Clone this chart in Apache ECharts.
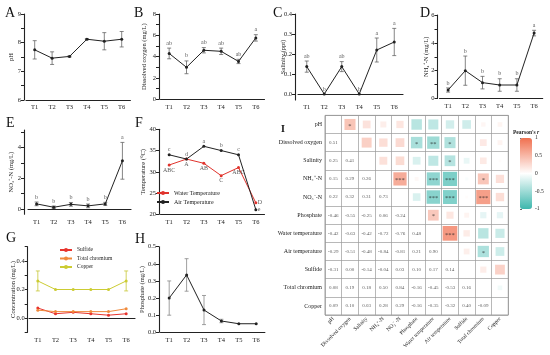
<!DOCTYPE html>
<html><head><meta charset="utf-8">
<script src="https://cdn.jsdelivr.net/npm/echarts@6/dist/echarts.min.js"></script>
<style>html,body{margin:0;padding:0;background:#fff}#c{width:550px;height:355px}</style>
</head><body><div id="c"></div>
<script>
// ---------- data ----------
const categories = ['T1','T2','T3','T4','T5','T6'];
const phMean = [7.75, 7.46, 7.52, 8.12, 8.05, 8.12];
const phSd   = [0.32, 0.22, 0.02, 0.02, 0.30, 0.27];
const doMean = [4.3, 3.0, 4.6, 4.5, 3.55, 5.76];
const doSd   = [0.5, 0.6, 0.25, 0.3, 0.2, 0.3];
const doLetters = ['ab','b','ab','ab','ab','a'];
const salMean = [0.137, 0, 0.137, 0, 0.22, 0.26];
const salSd   = [0.028, 0, 0.025, 0, 0.06, 0.068];
const salLetters = ['ab','b','ab','b','a','a'];
const nhMean = [0.61, 2.0, 1.14, 0.97, 0.97, 4.7];
const nhSd   = [0.15, 1.05, 0.45, 0.45, 0.45, 0.2];
const nhLetters = ['b','b','b','b','b','a'];
const noMean = [0.33, 0.11, 0.30, 0.20, 0.33, 3.14];
const noSd   = [0.12, 0.08, 0.12, 0.12, 0.10, 1.2];
const noLetters = ['b','b','b','b','b','a'];
const waterTemp = [31.6, 33.0, 32.0, 29.1, 31.0, 22.7];
const airTemp   = [34.0, 33.0, 36.0, 35.0, 34.0, 21.1];
const waterLetters = ['ABC','A','AB','C','ABC','D'];
const airLetters   = ['c','d','a','b','c','e'];
const sulfide  = [0.07, 0.03, 0.04, 0.03, 0.02, 0.03];
const chromium = [0.055, 0.045, 0.045, 0.045, 0.045, 0.065];
const copper   = [0.26, 0.20, 0.20, 0.20, 0.20, 0.26];
const copperSd = [0.07, 0, 0, 0, 0, 0.07];
const phosMean = [0.2, 0.335, 0.13, 0.066, 0.05, 0.05];
const phosSd   = [0.1, 0.095, 0.085, 0.01, 0, 0];
const corrVars = ['pH','Dissolved oxygen','Salinity','NH\u2084\u207A-N','NO\u2083\u207B-N','Phosphate','Water temperature','Air temperature','Sulfide','Total chromium','Copper'];
const corrLower = [
  [],
  [0.51],
  [0.25, 0.41],
  [0.15, 0.29, 0.26],
  [0.22, 0.32, 0.31, 0.73],
  [-0.46, -0.55, -0.25, 0.06, -0.24],
  [-0.42, -0.63, -0.42, -0.72, -0.76, 0.48],
  [-0.29, -0.51, -0.48, -0.84, -0.81, 0.21, 0.90],
  [-0.31, 0.00, -0.14, -0.04, 0.03, 0.10, 0.17, 0.14],
  [0.08, 0.19, 0.18, 0.50, 0.84, -0.16, -0.45, -0.53, 0.16],
  [0.09, 0.10, 0.03, 0.28, 0.29, -0.16, -0.35, -0.32, 0.40, -0.09]
];
const corrStars = [[0,1,'*'],[1,5,'*'],[1,6,'**'],[1,7,'*'],[2,7,'*'],[3,4,'***'],[3,6,'***'],[3,7,'***'],[3,9,'*'],[4,6,'***'],[4,7,'***'],[4,9,'***'],[5,6,'*'],[6,7,'***'],[7,9,'*']];
const colorbarTicks = [-1, -0.5, 0, 0.5, 1];

// ---------- build ----------
const serif = "'Liberation Serif','Times New Roman',serif";
const ink = '#222';
const grids = [], xAxes = [], yAxes = [], series = [];

function addPanel(g, y, nameText, nameGap) {
  const gi = grids.length;
  grids.push({left:g[0], top:g[1], width:g[2], height:g[3], containLabel:false, outerBoundsMode:'none'});
  xAxes.push({type:'category', gridIndex:gi, data:categories, boundaryGap:true,
    axisLine:{lineStyle:{color:ink, width:1.1}},
    axisTick:{alignWithLabel:true, length:3, lineStyle:{color:ink, width:1}},
    axisLabel:{fontSize:6.5, color:ink, margin:4, fontFamily:serif, interval:0},
    splitLine:{show:false}});
  yAxes.push({type:'value', gridIndex:gi, min:y.min, max:y.max, offset:y.off,
    axisLine:{show:true, lineStyle:{color:ink, width:1.1}},
    axisTick:{show:true, length:3, customValues:y.ticks, lineStyle:{color:ink, width:1}},
    axisLabel:{customValues:y.labels, fontSize:6.5, color:ink, margin:3, fontFamily:serif,
      formatter: v => Number(v).toFixed(y.dec)},
    splitLine:{show:false},
    name:nameText, nameLocation:'middle', nameGap:nameGap, nameMoveOverlap:false,
    nameTextStyle:{fontSize:6.5, color:ink, fontFamily:serif}});
  return gi;
}
function lineS(gi, name, data, color) {
  return {type:'line', name, xAxisIndex:gi, yAxisIndex:gi, data, symbol:'circle', symbolSize:3,
    itemStyle:{color}, lineStyle:{color, width:1}, z:4, animation:false};
}
function errS(gi, mean, sd, color) {
  return {type:'custom', xAxisIndex:gi, yAxisIndex:gi, z:3, animation:false, silent:true,
    data: mean.map((m,i) => [i, m - sd[i], m + sd[i]]),
    encode:{x:0, y:[1,2]},
    renderItem: (params, api) => {
      const x = api.value(0);
      const lo = api.coord([x, api.value(1)]), hi = api.coord([x, api.value(2)]);
      if (Math.abs(lo[1] - hi[1]) < 0.5) return null;
      const w = 2, st = {stroke:color, lineWidth:0.8};
      return {type:'group', children:[
        {type:'line', shape:{x1:lo[0], y1:lo[1], x2:hi[0], y2:hi[1]}, style:st},
        {type:'line', shape:{x1:lo[0]-w, y1:lo[1], x2:lo[0]+w, y2:lo[1]}, style:st},
        {type:'line', shape:{x1:hi[0]-w, y1:hi[1], x2:hi[0]+w, y2:hi[1]}, style:st}
      ]};
    }};
}
function letterS(gi, vals, letters, positions) {
  return {type:'scatter', xAxisIndex:gi, yAxisIndex:gi, symbolSize:0, silent:true, animation:false, z:5,
    data: vals.map((v,i) => ({value:[i, v], label:{position: positions ? positions[i] : 'top'}})),
    label:{show:true, formatter: p => letters[p.dataIndex], fontSize:6, color:'#333', fontFamily:serif, distance:2}};
}
const plus = (m, s) => m.map((v,i) => v + s[i]);

// A
let gi = addPanel([26,14,104.4,86], {min:6,max:9,off:2,dec:0,labels:[6,7,8,9],ticks:[6,6.5,7,7.5,8,8.5,9]}, 'pH', 9);
series.push(errS(gi, phMean, phSd, '#666'), lineS(gi, 'pH', phMean, ink));
// B
gi = addPanel([160.5,14,104,85.3], {min:0,max:8,off:1.5,dec:0,labels:[0,2,4,6,8],ticks:[0,1,2,3,4,5,6,7,8]}, 'Dissolved oxygen (mg/L)', 11);
series.push(errS(gi, doMean, doSd, '#666'), lineS(gi, 'DO', doMean, ink), letterS(gi, plus(doMean, doSd), doLetters));
// C
gi = addPanel([298,14,105,86], {min:-0.03,max:0.4,off:3,dec:1,labels:[0,0.1,0.2,0.3,0.4],ticks:[0,0.1,0.2,0.3,0.4]}, 'Salinity (ppt)', 8);
series.push(errS(gi, salMean, salSd, '#666'), lineS(gi, 'Salinity', salMean, ink), letterS(gi, plus(salMean, salSd), salLetters));
// D
gi = addPanel([439.5,15,103.2,83.5], {min:0,max:6,off:2,dec:0,labels:[0,2,4,6],ticks:[0,1,2,3,4,5,6]}, 'NH\u2084\u207A-N (mg/L)', 8);
series.push(errS(gi, nhMean, nhSd, '#666'), lineS(gi, 'NH4', nhMean, ink), letterS(gi, plus(nhMean, nhSd), nhLetters));
// E
gi = addPanel([28,130,103,84.3], {min:-0.35,max:5.15,off:4,dec:0,labels:[0,2,4],ticks:[0,1,2,3,4,5]}, 'NO\u2083\u207B-N (mg/L)', 9);
series.push(errS(gi, noMean, noSd, '#666'), lineS(gi, 'NO3', noMean, ink), letterS(gi, plus(noMean, noSd), noLetters));
// F
gi = addPanel([160.5,129.3,104,85], {min:20,max:40,off:1.5,dec:0,labels:[20,25,30,35,40],ticks:[20,25,30,35,40]}, 'Temperature (\u00B0C)', 12);
series.push(lineS(gi, 'Water Temperature', waterTemp, '#e0332c'), lineS(gi, 'Air Temperature', airTemp, ink),
  letterS(gi, waterTemp, waterLetters, ['bottom','bottom','bottom','bottom','bottom','right']),
  letterS(gi, airTemp, airLetters, ['top','top','top','top','top','right']));
// G
gi = addPanel([29,246.7,106,85.6], {min:-0.1,max:0.5,off:1.3,dec:1,labels:[0,0.2,0.4],ticks:[-0.1,0,0.1,0.2,0.3,0.4,0.5]}, 'Concentration (mg/L)', 11);
series.push(errS(gi, copper, copperSd, '#c8c836'),
  lineS(gi, 'Sulfide', sulfide, '#e8342e'), lineS(gi, 'Total chromium', chromium, '#f08a3c'), lineS(gi, 'Copper', copper, '#cccc33'));
// H
gi = addPanel([160.5,246.7,104.4,85.6], {min:0,max:0.5,off:1.5,dec:1,labels:[0,0.1,0.2,0.3,0.4,0.5],ticks:[0,0.1,0.2,0.3,0.4,0.5]}, 'Phosphate (mg/L)', 13);
series.push(errS(gi, phosMean, phosSd, '#888'), lineS(gi, 'Phosphate', phosMean, ink));

// I heatmap
const hi = grids.length;
grids.push({left:325, top:115.4, width:183.3, height:199.6, show:true, borderColor:'#888', borderWidth:0.8, containLabel:false, outerBoundsMode:'none'});
xAxes.push({type:'category', gridIndex:hi, data:corrVars, boundaryGap:true, position:'bottom',
  axisLine:{show:false}, axisTick:{alignWithLabel:true, length:2, lineStyle:{color:'#555'}},
  axisLabel:{interval:0, rotate:45, fontSize:5.5, color:ink, fontFamily:serif, margin:3},
  splitLine:{show:true, interval:0, lineStyle:{color:'#999', width:0.7}}});
yAxes.push({type:'category', gridIndex:hi, data:corrVars, boundaryGap:true, inverse:true,
  axisLine:{show:false}, axisTick:{alignWithLabel:true, length:2, lineStyle:{color:'#555'}},
  axisLabel:{interval:0, fontSize:6, color:ink, fontFamily:serif, margin:3},
  splitLine:{show:true, interval:0, lineStyle:{color:'#999', width:0.7}}});
const upper = [], lower = [];
corrLower.forEach((row, r) => row.forEach((v, c) => {
  lower.push([c, r, v]);
  upper.push([r, c, v]);
}));
const sqIndex = series.length;
series.push({type:'scatter', xAxisIndex:hi, yAxisIndex:hi, data:upper, symbol:'rect', animation:false, silent:true,
  symbolSize: v => Math.sqrt(Math.abs(v[2])) * 15.5, z:2});
series.push({type:'scatter', xAxisIndex:hi, yAxisIndex:hi, symbolSize:0, silent:true, animation:false, z:6,
  data: corrStars.map(s => ({value:[s[1], s[0]], name:s[2]})),
  label:{show:true, position:'inside', formatter:'{b}', fontSize:6.5, color:'#222', fontFamily:serif, offset:[0,1.5]}});
series.push({type:'scatter', xAxisIndex:hi, yAxisIndex:hi, symbolSize:0, silent:true, animation:false, z:6,
  data: lower,
  label:{show:true, position:'inside', formatter: p => p.value[2].toFixed(2), fontSize:5, color:'#333', fontFamily:serif}});

// colorbar axis
const ci = grids.length;
grids.push({left:520, top:138, width:12, height:71, containLabel:false, outerBoundsMode:'none'});
xAxes.push({type:'value', gridIndex:ci, show:false, min:0, max:1});
yAxes.push({type:'value', gridIndex:ci, position:'right', min:-1, max:1,
  axisLine:{show:false}, splitLine:{show:false},
  axisTick:{show:true, length:2, customValues:colorbarTicks, lineStyle:{color:'#666'}},
  axisLabel:{customValues:colorbarTicks, fontSize:5.5, color:ink, fontFamily:serif, margin:3}});

const titleBase = {padding:0, textStyle:{fontFamily:serif, fontWeight:'normal', fontSize:14, color:'#111'}};
const letterPos = [['A',5,6],['B',134,6],['C',273,6],['D',420,6],['E',6,116],['F',135,116],['G',6,231],['H',135,232]];
const titles = letterPos.map(t => Object.assign({}, titleBase, {text:t[0], left:t[1], top:t[2]}));
titles.push(Object.assign({}, titleBase, {text:'I', left:281, top:124, textStyle:{fontFamily:serif, fontSize:10, color:'#111'}}));
titles.push({text:"Pearson's {i|r}", left:513, top:130, padding:0,
  textStyle:{fontFamily:serif, fontWeight:'bold', fontSize:5.5, color:'#222',
    rich:{i:{fontStyle:'italic', fontWeight:'bold', fontFamily:serif, fontSize:5.5}}}});

const option = {
  animation:false,
  backgroundColor:'#fff',
  title: titles,
  grid: grids, xAxis: xAxes, yAxis: yAxes, series,
  legend: [
    {data:['Water Temperature','Air Temperature'], left:156, top:190, orient:'vertical', itemWidth:12, itemHeight:5, itemGap:3, padding:0,
      textStyle:{fontSize:6, fontFamily:serif, color:ink}},
    {data:['Sulfide','Total chromium','Copper'], left:59, top:247, orient:'vertical', itemWidth:12, itemHeight:5, itemGap:2.5, padding:0,
      textStyle:{fontSize:5.5, fontFamily:serif, color:ink}}
  ],
  visualMap: {type:'continuous', min:-1, max:1, seriesIndex:sqIndex, dimension:2, calculable:false,
    inRange:{color:['#3db7ad','#ffffff','#f0704f']}, orient:'vertical', left:520, top:138,
    itemWidth:12, itemHeight:71, padding:0, text:null, showLabel:false, hoverLink:false}
};
const chart = echarts.init(document.getElementById('c'), null, {renderer:'canvas'});
chart.setOption(option);
</script></body></html>
